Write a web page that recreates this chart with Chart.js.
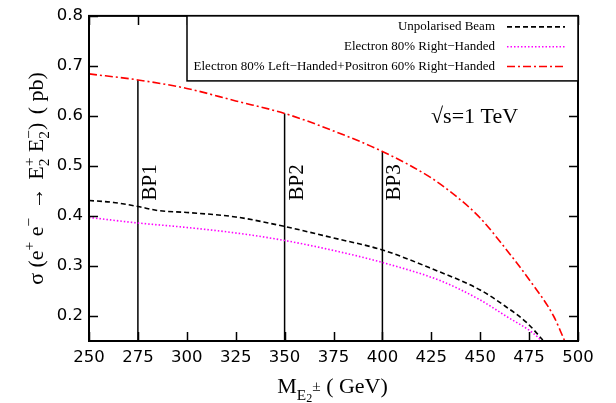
<!DOCTYPE html>
<html>
<head>
<meta charset="utf-8">
<script src="https://cdn.jsdelivr.net/npm/chart.js@4.4.1/dist/chart.umd.min.js"></script>
<style>
  html, body { margin: 0; padding: 0; background: #fff; }
  canvas { display: block; }
</style>
</head>
<body>
<canvas id="xsec" width="616" height="403"></canvas>
<script>
// tick values of the two axes
var massTicks = [250, 275, 300, 325, 350, 375, 400, 425, 450, 475, 500];
var sigmaTicks = [0.2, 0.3, 0.4, 0.5, 0.6, 0.7, 0.8];

// Unpolarised Beam
var unpolMass  = [250, 262.5, 275, 285, 300, 325, 350, 375, 400, 425, 450, 463, 474, 482];
var unpolSigma = [0.431, 0.427, 0.419, 0.411, 0.407, 0.398, 0.379, 0.356, 0.332, 0.295, 0.252, 0.219, 0.186, 0.152];

// Electron 80% Right-Handed
var rhMass  = [250, 275, 300, 325, 350, 375, 400, 430, 450, 463.5, 477, 481.5];
var rhSigma = [0.397, 0.386, 0.377, 0.366, 0.351, 0.331, 0.307, 0.270, 0.232, 0.199, 0.166, 0.150];

// Electron 80% Left-Handed + Positron 60% Right-Handed
var lhMass  = [250, 275, 300, 325, 350, 375, 400, 425, 437.5, 450, 462.5, 475, 487.5, 493];
var lhSigma = [0.684, 0.672, 0.655, 0.630, 0.605, 0.570, 0.529, 0.476, 0.440, 0.396, 0.337, 0.273, 0.200, 0.152];

// benchmark points
var bpNames = ['BP1', 'BP2', 'BP3'];
var bpMass  = [275, 350, 400];
var bpTop   = [0.672, 0.605, 0.529];

var seriesNames = [
  'Unpolarised Beam',
  'Electron 80% Right\u2212Handed',
  'Electron 80% Left\u2212Handed+Positron 60% Right\u2212Handed'
];

var SERIF = '"Liberation Serif", "Times New Roman", serif';
var SANS = '"DejaVu Sans", sans-serif';

function pts(xs, ys) {
  return xs.map(function (x, i) { return { x: x, y: ys[i] }; });
}

function curve(label, xs, ys, color, dash) {
  return {
    label: label,
    data: pts(xs, ys),
    borderColor: color,
    borderWidth: 1.6,
    borderDash: dash,
    pointRadius: 0,
    showLine: true,
    fill: false,
    cubicInterpolationMode: 'monotone'
  };
}

var datasets = [
  curve(seriesNames[0], unpolMass, unpolSigma, '#000000', [5, 3]),
  curve(seriesNames[1], rhMass, rhSigma, '#ff00ff', [1.5, 2]),
  curve(seriesNames[2], lhMass, lhSigma, '#ff0000', [8, 3, 2, 3])
];

// vertical benchmark lines from the bottom of the axis up to the red curve
bpMass.forEach(function (m, i) {
  datasets.push({
    label: bpNames[i],
    data: [{ x: m, y: 0.15 }, { x: m, y: bpTop[i] }],
    borderColor: '#000',
    borderWidth: 1.5,
    pointRadius: 0,
    showLine: true,
    fill: false
  });
});

// text with sub / superscripts, drawn piece by piece
function pieceFont(size) { return size + 'px ' + SERIF; }

function pieceWidth(ctx, p, base) {
  if (p.gap !== undefined) return p.gap;
  if (p.sub !== undefined) {
    ctx.font = pieceFont(base * 0.7);
    return Math.max(ctx.measureText(p.sub).width, ctx.measureText(p.sup).width);
  }
  ctx.font = pieceFont(base * (p.s || 1));
  return ctx.measureText(p.t).width;
}

function drawRich(ctx, parts, cx, baseline, base) {
  var total = 0;
  parts.forEach(function (p) { total += pieceWidth(ctx, p, base); });
  var x = cx - total / 2;
  ctx.textAlign = 'left';
  ctx.textBaseline = 'alphabetic';
  parts.forEach(function (p) {
    var w = pieceWidth(ctx, p, base);
    if (p.gap !== undefined) {
      // nothing to draw
    } else if (p.sub !== undefined) {
      ctx.fillText(p.sub, x, baseline + 0.25 * base);
      ctx.fillText(p.sup, x, baseline - 0.42 * base);
    } else {
      ctx.fillText(p.t, x, baseline + (p.dy || 0) * base);
    }
    x += w;
  });
}

var yTitle = [
  { t: '\u03c3 (e' }, { t: '+', s: 0.7, dy: -0.42 }, { t: ' e' }, { t: '\u2212', s: 0.7, dy: -0.42 },
  { gap: 3 }, { t: ' \u2192 ' }, { gap: 2 }, { t: 'E' }, { sub: '2', sup: '+' }, { t: ' E' }, { sub: '2', sup: '\u2212' },
  { t: ')' }, { gap: 3 }, { t: ' ( pb)' }
];
var xTitle = [
  { t: 'M' }, { t: 'E', s: 0.7, dy: 0.3 }, { t: '2', s: 0.55, dy: 0.42 },
  { t: '\u00b1', s: 0.7, dy: -0.1 }, { t: ' ( GeV)' }
];

var decorations = {
  id: 'decorations',
  afterDraw: function (chart) {
    var ctx = chart.ctx;
    var a = chart.chartArea;
    var xs = chart.scales.x, ys = chart.scales.y;
    ctx.save();
    ctx.fillStyle = '#000';
    ctx.strokeStyle = '#000';

    // inner ticks on all four sides
    ctx.lineWidth = 1.5;
    ctx.beginPath();
    massTicks.forEach(function (m) {
      var px = Math.round(xs.getPixelForValue(m)) + 0.5;
      ctx.moveTo(px, a.bottom); ctx.lineTo(px, a.bottom - 9);
      ctx.moveTo(px, a.top); ctx.lineTo(px, a.top + 9);
    });
    sigmaTicks.forEach(function (v) {
      var py = Math.round(ys.getPixelForValue(v)) + 0.5;
      ctx.moveTo(a.left, py); ctx.lineTo(a.left + 9, py);
      ctx.moveTo(a.right, py); ctx.lineTo(a.right - 9, py);
    });
    ctx.stroke();

    // frame
    ctx.lineWidth = 2;
    ctx.strokeRect(a.left, a.top, a.right - a.left, a.bottom - a.top);

    // legend box
    var lx = a.right - 391, ly = a.top, lw = 391, lh = 65;
    ctx.fillStyle = '#fff';
    ctx.fillRect(lx, ly, lw, lh);
    ctx.lineWidth = 1.5;
    ctx.strokeRect(lx, ly, lw, lh);
    ctx.fillStyle = '#000';
    ctx.font = '13px ' + SERIF;
    ctx.textAlign = 'right';
    ctx.textBaseline = 'middle';
    for (var i = 0; i < 3; i++) {
      var ds = chart.data.datasets[i];
      var ry = ly + 11 + i * 19.8;
      ctx.fillText(ds.label, a.right - 83, ry);
      ctx.save();
      ctx.strokeStyle = ds.borderColor;
      ctx.lineWidth = ds.borderWidth;
      ctx.setLineDash(ds.borderDash);
      ctx.beginPath();
      ctx.moveTo(a.right - 71, ry);
      ctx.lineTo(a.right - 13, ry);
      ctx.stroke();
      ctx.restore();
    }

    // benchmark labels, rotated
    ctx.font = '21px ' + SERIF;
    ctx.textAlign = 'left';
    ctx.textBaseline = 'alphabetic';
    bpMass.forEach(function (m, i) {
      ctx.save();
      ctx.translate(xs.getPixelForValue(m) + 18, ys.getPixelForValue(0.431));
      ctx.rotate(-Math.PI / 2);
      ctx.fillText(bpNames[i], 0, 0);
      ctx.restore();
    });

    // sqrt(s)
    ctx.font = '22px ' + SERIF;
    ctx.fillText('\u221as=1 TeV', 431, 123);

    // axis titles
    drawRich(ctx, xTitle, (a.left + a.right) / 2 - 1, 393, 22);
    ctx.save();
    ctx.translate(43, (a.top + a.bottom) / 2);
    ctx.rotate(-Math.PI / 2);
    drawRich(ctx, yTitle, 0, 0, 22);
    ctx.restore();

    ctx.restore();
  }
};

var config = {
  type: 'scatter',
  data: { datasets: datasets },
  options: {
    responsive: false,
    animation: false,
    devicePixelRatio: 1,
    layout: { padding: { top: 14, right: 38, left: 0, bottom: 0 } },
    plugins: {
      legend: { display: false },
      tooltip: { enabled: false }
    },
    scales: {
      x: {
        type: 'linear',
        min: 250,
        max: 500,
        afterBuildTicks: function (axis) {
          axis.ticks = massTicks.map(function (v) { return { value: v }; });
        },
        afterFit: function (axis) { axis.height = 62; },
        grid: { display: true, drawOnChartArea: false, drawTicks: false },
        border: { display: false },
        ticks: {
          padding: 7,
          color: '#000',
          font: { family: SANS, size: 16.5 },
          maxRotation: 0,
          callback: function (v) { return v; }
        }
      },
      y: {
        type: 'linear',
        min: 0.15,
        max: 0.8,
        afterBuildTicks: function (axis) {
          axis.ticks = sigmaTicks.map(function (v) { return { value: v }; });
        },
        afterFit: function (axis) { axis.width = 89; },
        grid: { display: true, drawOnChartArea: false, drawTicks: false },
        border: { display: false },
        ticks: {
          padding: 6,
          color: '#000',
          font: { family: SANS, size: 16.5 },
          callback: function (v) { return v.toFixed(1); }
        }
      }
    }
  },
  plugins: [decorations]
};

var chart = new Chart(document.getElementById('xsec').getContext('2d'), config);
</script>
</body>
</html>
